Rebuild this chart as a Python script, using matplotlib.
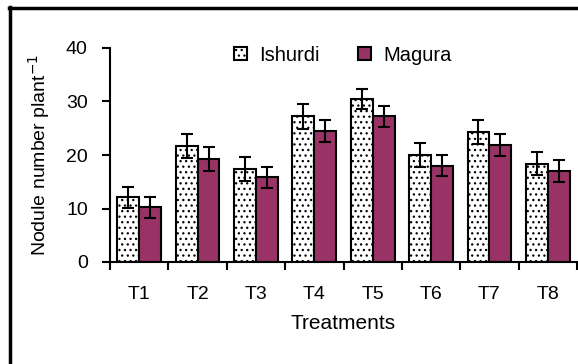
import numpy as np
import matplotlib
matplotlib.use('Agg')
import matplotlib.pyplot as plt
from matplotlib.lines import Line2D

plt.rcParams['font.family'] = ['Liberation Sans', 'DejaVu Sans']
plt.rcParams['hatch.color'] = '#555555'
plt.rcParams['hatch.linewidth'] = 0.9

treatments = ['T1', 'T2', 'T3', 'T4', 'T5', 'T6', 'T7', 'T8']
ishurdi = [12.1, 21.7, 17.4, 27.2, 30.5, 20.0, 24.3, 18.4]
ishurdi_err = [2.0, 2.2, 2.3, 2.3, 1.9, 2.3, 2.2, 2.2]
magura = [10.2, 19.3, 15.8, 24.5, 27.2, 18.0, 21.9, 17.0]
magura_err = [2.0, 2.2, 2.0, 2.0, 2.0, 2.0, 2.0, 2.0]

fig = plt.figure(figsize=(5.78, 3.64), dpi=100)
ax = fig.add_axes([110 / 578, 102 / 364, 467 / 578, 214 / 364])

# outer frame: only the left and top edges are inside the picture
fx, fy = 10 / 578, (364 - 8) / 364
fig.lines.append(Line2D([fx, fx], [-0.05, fy + 0.004], transform=fig.transFigure,
                        color='black', linewidth=2.5))
fig.lines.append(Line2D([fx - 0.002, 1.05], [fy, fy], transform=fig.transFigure,
                        color='black', linewidth=2.5))

x = np.arange(len(treatments))
w = 0.375
ax.bar(x - w / 2, ishurdi, w, color='white', edgecolor='black', hatch='...',
       linewidth=1.5, label='Ishurdi', zorder=2)
ax.bar(x + w / 2, magura, w, color='#993366', edgecolor='black',
       linewidth=1.5, label='Magura', zorder=2)
ax.errorbar(x - w / 2, ishurdi, yerr=ishurdi_err, fmt='none', ecolor='black',
            elinewidth=1.5, capsize=4.3, capthick=1.5, zorder=3)
ax.errorbar(x + w / 2, magura, yerr=magura_err, fmt='none', ecolor='black',
            elinewidth=1.5, capsize=4.3, capthick=1.5, zorder=3)

ax.set_xlim(-0.5, len(treatments) - 0.5)
ax.set_ylim(0, 40)
ax.set_yticks([0, 10, 20, 30, 40])
ax.set_xticks(np.arange(len(treatments) + 1) - 0.5)
ax.set_xticklabels([])
ax.set_xticks(x, minor=True)
ax.set_xticklabels(treatments, minor=True)
ax.tick_params(axis='x', which='major', direction='out', length=6, width=1.5)
ax.tick_params(axis='x', which='minor', length=0, pad=17, labelsize=14)
ax.tick_params(axis='y', direction='out', length=6, width=1.5, labelsize=14, pad=10)

for s in ['top', 'right']:
    ax.spines[s].set_visible(False)
for s in ['left', 'bottom']:
    ax.spines[s].set_linewidth(1.5)

ax.set_ylabel('Nodule number plant$^{-1}$', fontsize=14, labelpad=10)
ax.set_xlabel('Treatments', fontsize=15, labelpad=8)

ax.legend(loc='center', bbox_to_anchor=(0.498, 0.967), ncol=2, frameon=False,
          fontsize=14.5, handlelength=0.65, handleheight=0.65, handletextpad=0.6,
          columnspacing=1.9, borderpad=0)

fig.savefig('out.png', dpi=100)
